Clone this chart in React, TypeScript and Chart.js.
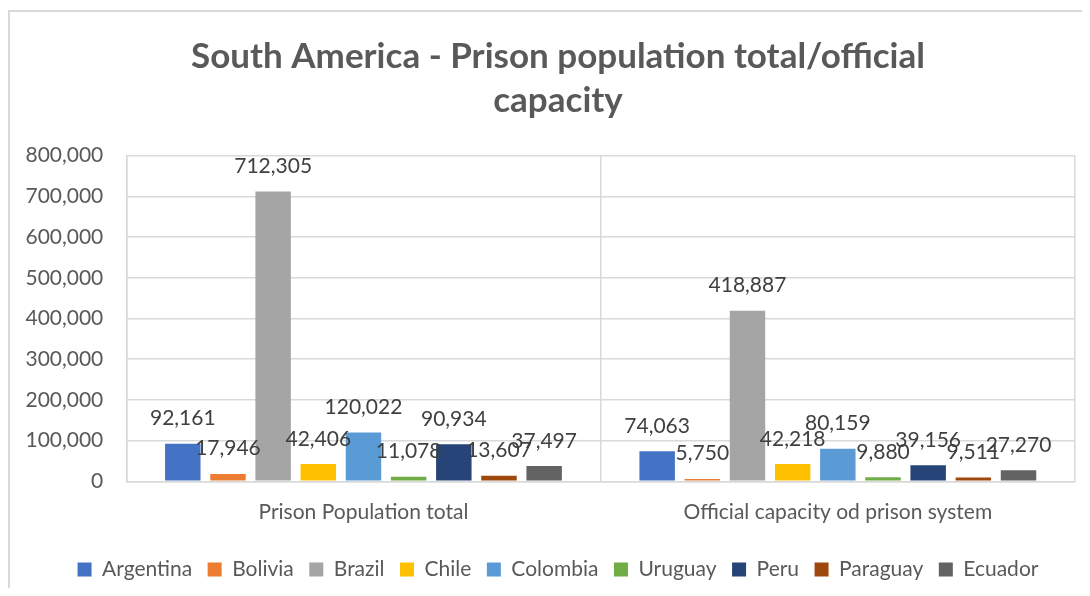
import React, { useEffect, useRef } from "react";
import { Chart, registerables } from "chart.js";

Chart.register(...registerables);

// Groups along the x axis
const categories = ["Prison Population total", "Official capacity od prison system"];

// One series per country: [prison population total, official capacity]
const countries = ["Argentina", "Bolivia", "Brazil", "Chile", "Colombia", "Uruguay", "Peru", "Paraguay", "Ecuador"];
const populationTotal = [92161, 17946, 712305, 42406, 120022, 11078, 90934, 13607, 37497];
const officialCapacity = [74063, 5750, 418887, 42218, 80159, 9880, 39156, 9511, 27270];
const seriesColors = ["#4472C4", "#ED7D31", "#A5A5A5", "#FFC000", "#5B9BD5", "#70AD47", "#264478", "#9E480E", "#636363"];

// Value axis
const yTickValues = [0, 100000, 200000, 300000, 400000, 500000, 600000, 700000, 800000];

const titleLines = ["South America - Prison population total/official", "capacity"];

const FONT = "Lato, 'Open Sans', sans-serif";
const fmt = (v: number) => v.toLocaleString("en-US");

// Writes each bar's value just above its top edge
const barValueLabels = {
  id: "barValueLabels",
  afterDatasetsDraw(chart: any) {
    const ctx = chart.ctx;
    ctx.save();
    ctx.font = `21px ${FONT}`;
    ctx.fillStyle = "#404040";
    ctx.textAlign = "center";
    ctx.textBaseline = "alphabetic";
    chart.data.datasets.forEach((ds: any, i: number) => {
      const meta = chart.getDatasetMeta(i);
      meta.data.forEach((bar: any, j: number) => {
        ctx.fillText(fmt(ds.data[j]), bar.x, bar.y - 18.5);
      });
    });
    ctx.restore();
  },
};

// Value-axis labels, right-aligned a fixed distance left of the plot
const valueAxisLabels = {
  id: "valueAxisLabels",
  afterDraw(chart: any) {
    const ctx = chart.ctx;
    const y = chart.scales.y;
    ctx.save();
    ctx.font = `21px ${FONT}`;
    ctx.fillStyle = "#595959";
    ctx.textAlign = "right";
    ctx.textBaseline = "middle";
    yTickValues.forEach((v) => {
      ctx.fillText(fmt(v), chart.chartArea.left - 23, y.getPixelForValue(v));
    });
    ctx.restore();
  },
};

export default function App() {
  const canvasRef = useRef<HTMLCanvasElement | null>(null);

  useEffect(() => {
    document.documentElement.style.overflow = "hidden";
    const canvas = canvasRef.current;
    if (!canvas) return;
    const chart = new Chart(canvas, {
      type: "bar",
      data: {
        labels: categories,
        datasets: countries.map((name, i) => ({
          label: name,
          data: [populationTotal[i], officialCapacity[i]],
          backgroundColor: seriesColors[i],
          borderWidth: 0,
          categoryPercentage: 0.857,
          barPercentage: 0.785,
        })),
      },
      options: {
        animation: false,
        responsive: false,
        maintainAspectRatio: false,
        layout: { padding: { left: 31, right: 15, top: 0, bottom: 6 } },
        plugins: {
          title: {
            display: true,
            text: titleLines,
            color: "#595959",
            font: { family: FONT, size: 35, weight: "bold", lineHeight: 44 / 35 },
            padding: { top: 23, bottom: 32.7 },
          },
          legend: {
            position: "bottom",
            labels: {
              color: "#595959",
              font: { family: FONT, size: 21 },
              boxWidth: 14,
              boxHeight: 14,
              padding: 15.5,
            },
          },
          tooltip: { enabled: false },
        },
        scales: {
          x: {
            grid: { color: "#d9d9d9", lineWidth: 1.5, drawTicks: false },
            border: { color: "#d9d9d9", width: 1.5 },
            ticks: { color: "#595959", font: { family: FONT, size: 21 }, padding: 18.5 },
          },
          y: {
            min: 0,
            max: 800000,
            afterFit(scale: any) {
              scale.width = 85.3;
            },
            afterBuildTicks(scale: any) {
              scale.ticks = yTickValues.map((v) => ({ value: v }));
            },
            grid: { color: "#d9d9d9", lineWidth: 1.5, drawTicks: false },
            border: { color: "#d9d9d9", width: 1.5 },
            ticks: { display: false },
          },
        },
      },
      plugins: [barValueLabels, valueAxisLabels],
    });
    return () => chart.destroy();
  }, []);

  return (
    <div style={{ position: "relative", width: 1082, height: 580 }}>
      <div
        style={{
          position: "absolute",
          left: 0,
          top: 2,
          width: 1082,
          height: 586,
          borderLeft: "2px solid #d9d9d9",
          borderTop: "2px solid #d9d9d9",
          boxSizing: "border-box",
          background: "#fff",
        }}
      >
        <canvas ref={canvasRef} width={1080} height={584} style={{ display: "block" }} />
      </div>
    </div>
  );
}
